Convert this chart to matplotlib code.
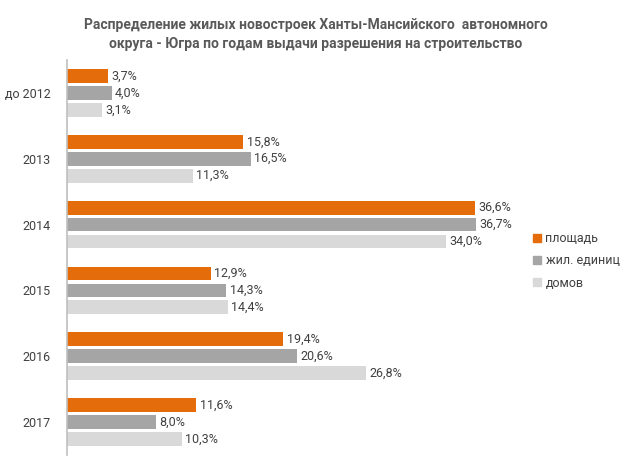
import matplotlib
matplotlib.use("Agg")
import matplotlib.pyplot as plt
import numpy as np
from matplotlib.patches import Patch

plt.rcParams['font.family'] = ['Roboto', 'DejaVu Sans']

categories = ["до 2012", "2013", "2014", "2015", "2016", "2017"]
series_names = ["площадь", "жил. единиц", "домов"]
area = [3.7, 15.8, 36.6, 12.9, 19.4, 11.6]
units = [4.0, 16.5, 36.7, 14.3, 20.6, 8.0]
houses = [3.1, 11.3, 34.0, 14.4, 26.8, 10.3]
colors = ["#E46C0A", "#A5A5A5", "#D9D9D9"]

fig = plt.figure(figsize=(6.32, 4.65), dpi=100)
ax = fig.add_axes([67/632, 10/465, (513-67)/632, (455-60)/465])

n = len(categories)
centers = np.arange(n)
h = 0.21
step = 0.257
for i, (vals, c) in enumerate(zip([area, units, houses], colors)):
    y = centers + (i - 1) * step
    ax.barh(y, vals, height=h, color=c, edgecolor='none')
    for yy, v in zip(y, vals):
        ax.text(v + 0.3, yy, f"{v:.1f}%".replace('.', ','), va='center', ha='left',
                fontsize=9, color='#404040')

ax.set_xlim(0, 40)
ax.set_ylim(n - 0.5, -0.5)
ax.set_yticks(centers)
ax.set_yticklabels(categories, fontsize=9, color='#404040')
ax.tick_params(axis='y', length=0, pad=12)
ax.set_xticks([])
for s in ['top', 'right', 'bottom']:
    ax.spines[s].set_visible(False)
ax.spines['left'].set_color('#BFBFBF')
ax.spines['left'].set_linewidth(1.2)

fig.text(0.5, 1 - 18/465, "Распределение жилых новостроек Ханты-Мансийского  автономного\nокруга - Югра по годам выдачи разрешения на строительство",
         ha='center', va='top', fontsize=10, fontweight='bold', color='#595959', linespacing=1.45)

handles = [Patch(color=c) for c in colors]
leg = fig.legend(handles, series_names, loc='upper left', bbox_to_anchor=(528/632, 1 - 227/465),
                 frameon=False, fontsize=9, handlelength=0.6, handleheight=0.6,
                 handletextpad=0.4, labelspacing=0.75, borderaxespad=0)
for t in leg.get_texts():
    t.set_color('#404040')

fig.savefig("out.png", dpi=100)
